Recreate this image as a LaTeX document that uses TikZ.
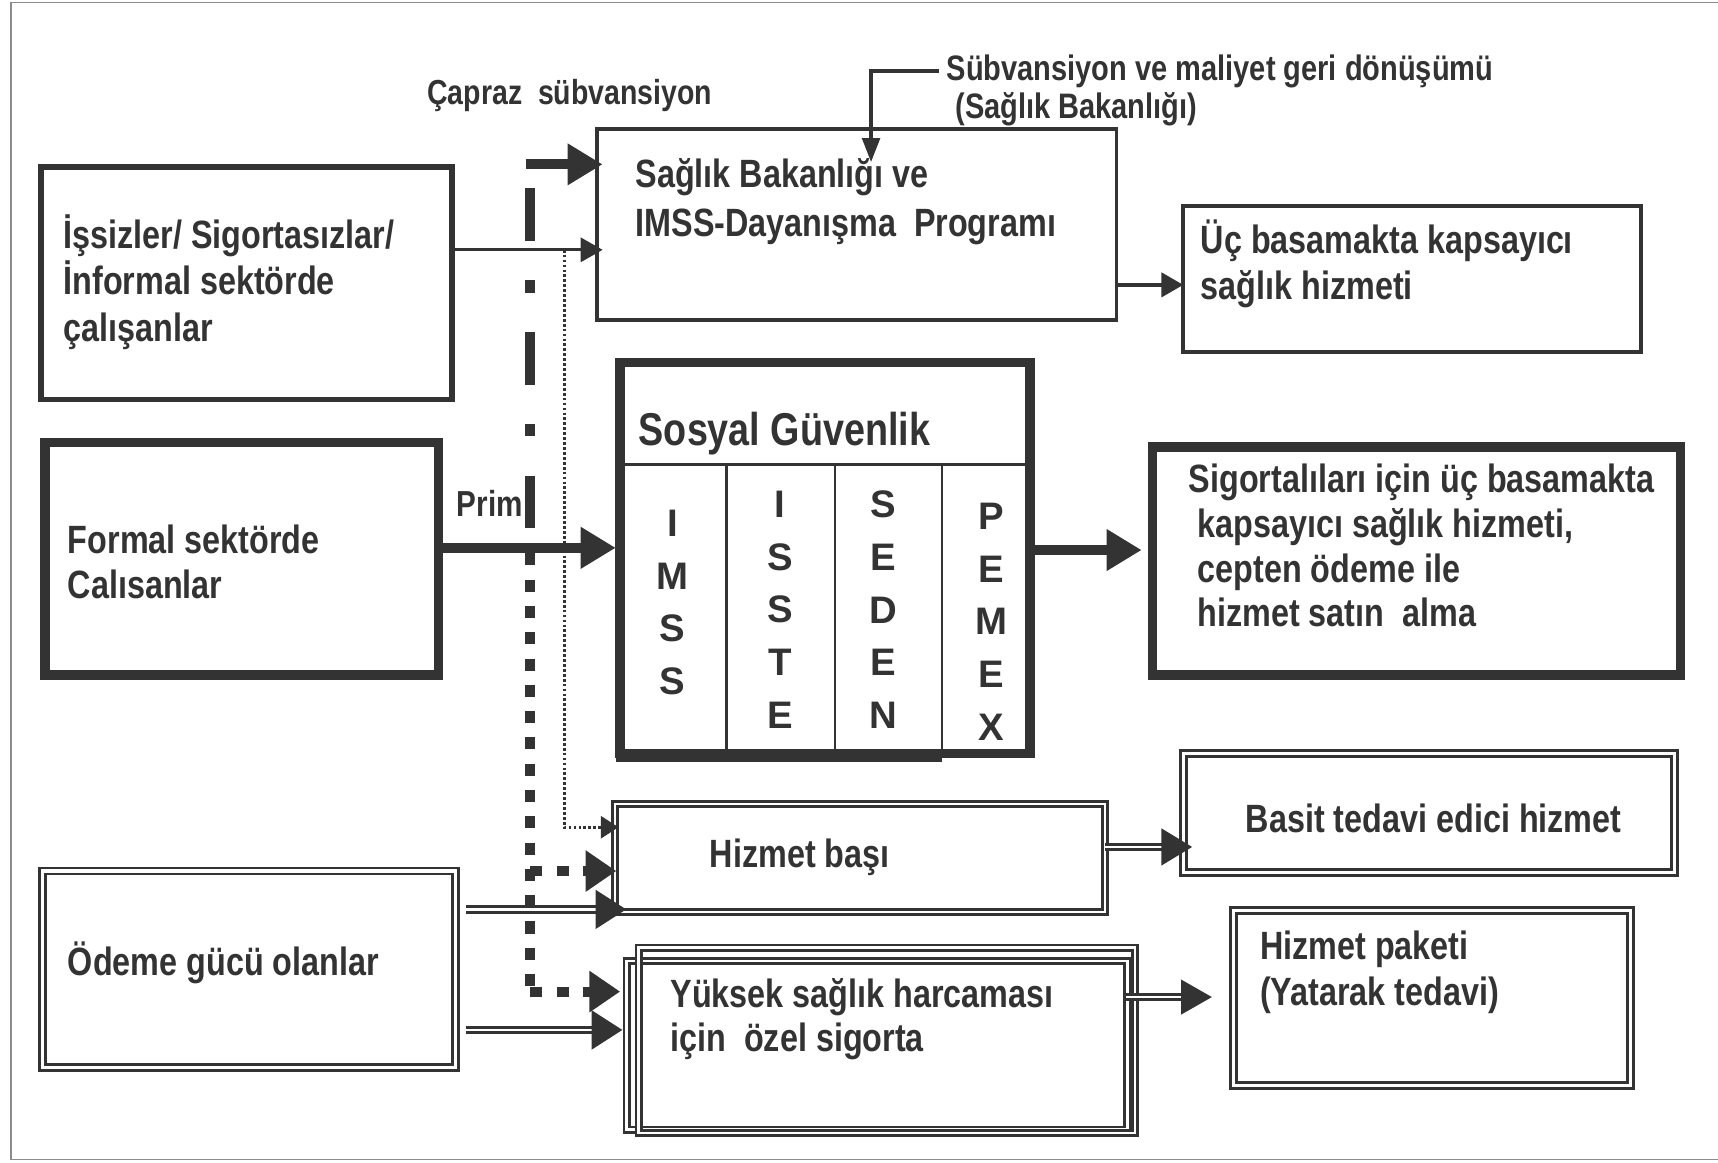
\documentclass[tikz,border=0pt]{standalone}
\usepackage{fontspec}
\setmainfont{Liberation Sans}[FakeStretch=0.82]
\newfontfamily\widefont{Liberation Sans}
\usetikzlibrary{arrows.meta,calc}
\definecolor{ink}{HTML}{333333}
\newcommand{\fsz}[2]{\fontsize{#1}{#2}\selectfont}
\begin{document}
\begin{tikzpicture}[x=1pt,y=-1pt,
  every node/.style={inner sep=0pt,outer sep=0pt},
  box/.style={draw=ink,line width=#1,anchor=north west},
  dblbox/.style={draw=ink,double=white,line width=#1,double distance=2.5pt,anchor=north west},
  txt/.style={text=ink,font=\bfseries\fsz{36}{#1},align=left,anchor=west},
  txt/.default=41,
  col/.style={text=ink,font=\widefont\bfseries\fsz{35}{48},align=center,anchor=center},
  thinarrow/.style={draw=ink,line width=#1,-{Triangle[length=20pt,width=22pt]}},
  thickarrow/.style={draw=ink,line width=9pt,-{Triangle[length=32pt,width=36pt]}},
  sqdot/.style={draw=ink,line width=9pt,dash pattern=on 11pt off 13pt},
  dblline/.style={draw=ink,double=white,line width=2.5pt,double distance=2.5pt},
  frame/.style={draw=black!45,line width=1.2pt}
]
\fill[white] (0,0) rectangle (1568,1061);
\useasboundingbox (0,0) rectangle (1568,1061);
\draw[frame] (1568,2) -- (10,2) -- (10,1058) -- (1568,1058);

% ---------- boxes ----------
\node[box=5pt, minimum width=375pt, minimum height=212pt] (A) at (37.5,152.5) {};
\node[box=3.5pt, minimum width=474pt, minimum height=174pt] (B) at (545,118) {};
\node[box=3.5pt, minimum width=418pt, minimum height=133pt] (C) at (1080,188) {};
\node[box=8.5pt, minimum width=359pt, minimum height=212pt] (E) at (41,404) {};
\node[box=8.5pt, minimum width=374pt, minimum height=357pt] (D) at (566,331) {};
\node[box=8.5pt, minimum width=482pt, minimum height=208pt] (F) at (1052,408) {};
\node[dblbox=2.5pt, minimum width=447pt, minimum height=99pt, double distance=2pt] (G) at (561.5,733.5) {};
\node[dblbox=2.5pt, minimum width=377pt, minimum height=179pt, double distance=3pt] (H) at (39,795) {};
\node[dblbox=2.5pt, minimum width=457pt, minimum height=154pt] (I1) at (572,877) {};
\node[dblbox=2.5pt, minimum width=453pt, minimum height=169pt] (I2) at (583,865) {};
\node[dblbox=3pt, minimum width=448pt, minimum height=108pt] (J) at (1080,688) {};
\node[dblbox=3pt, minimum width=362pt, minimum height=160pt] (K) at (1126,831) {};

% Sosyal Guvenlik inner structure
\coordinate (hdr) at (0,424);
\draw[ink,line width=2pt] (D.west |- hdr) -- (D.east |- hdr);
\foreach \x in {663,762,860} \draw[ink,line width=2pt] (\x,424) -- (\x,688);
\draw[ink,line width=6pt] (562,692) -- (860,692);

% ---------- texts ----------
\node[txt, font=\bfseries\fsz{31.7}{30}] (capraz) at (390,87) {Çapraz\ \ sübvansiyon};
\node[txt, font=\bfseries\fsz{32.3}{35}] (subv) at (864,82.5) {Sübvansiyon ve maliyet geri dönüşümü\\\hspace*{8pt}(Sağlık Bakanlığı)};
\node[txt=42.5] (At) at (58,257.5) {İşsizler/ Sigortasızlar/\\İnformal sektörde\\çalışanlar};
\node[txt=44] (Bt) at (580,184) {Sağlık Bakanlığı ve\\IMSS-Dayanışma\ \ Programı};
\node[txt=42] (Ct) at (1096,241) {Üç basamakta kapsayıcı\\sağlık hizmeti};
\node[txt] (Et) at (62,512.5) {Formal sektörde\\Calısanlar};
\node[txt, font=\bfseries\fsz{33}{30}] (prim) at (417,459) {Prim};
\node[txt, font=\bfseries\fsz{42}{40}] (Dt) at (583,396) {Sosyal Güvenlik};
\node[txt=40.7] (Ft) at (1085,498) {Sigortalıları için üç basamakta\\\hspace*{8pt}kapsayıcı sağlık hizmeti,\\\hspace*{8pt}cepten ödeme ile\\\hspace*{8pt}hizmet satın\ \ alma};
\node[col] (c1) at (614,550) {I\\M\\S\\S};
\node[col] (c2) at (712,556.5) {I\\S\\S\\T\\E};
\node[col] (c3) at (806,556.5) {S\\E\\D\\E\\N};
\node[col] (c4) at (905,567.5) {P\\E\\M\\E\\X};
\node[txt] (Gt) at (648,782) {Hizmet başı};
\node[txt] (Ht) at (62,879) {Ödeme gücü olanlar};
\node[txt=40] (It) at (612,930) {Yüksek sağlık harcaması\\için\ \ özel sigorta};
\node[txt] (Jt) at (1137,747) {Basit tedavi edici hizmet};
\node[txt=42] (Kt) at (1150,887) {Hizmet paketi\\(Yatarak tedavi)};

% ---------- connectors ----------
\coordinate (s0) at (857,65);
\coordinate (sB) at (795,148);
\draw[ink,line width=3.5pt,line join=miter,-{Triangle[length=22pt,width=16pt]}] (s0) -| (sB);

\coordinate (yAB) at (0,228);
\draw[thinarrow=2.5pt] (A.east |- yAB) -- ($(B.west |- yAB)+(5,0)$);
\coordinate (yBC) at (0,260);
\draw[thinarrow=3.5pt] (B.east |- yBC) -- (C.west |- yBC);

\coordinate (top0) at (480,150);
\draw[thickarrow] (top0) -- ($(B.west |- top0)+(5,0)$);
\draw[ink,line width=9pt,dash pattern=on 48pt off 36pt on 11pt off 36pt] (484,172) -- (484,485);

\coordinate (yPrim) at (0,500);
\draw[thickarrow] (E.east |- yPrim) -- ($(D.west |- yPrim)+(-4,0)$);
\coordinate (yDF) at (0,502);
\draw[thickarrow] (D.east |- yDF) -- ($(F.west |- yDF)+(-10,0)$);

\coordinate (sqTop) at (484,505);
\coordinate (sqMid) at (484,795);
\coordinate (sqBot) at (484,905);
\draw[sqdot] (sqTop) -- (sqBot);
\draw[sqdot,-{Triangle[length=28pt,width=36pt]}] (sqMid) -- ($(G.west |- sqMid)+(1,0)$);
\draw[sqdot,-{Triangle[length=28pt,width=36pt]}] (sqBot) -- ($(I1.west |- sqBot)+(-6,0)$);

\coordinate (dotTop) at (515,228);
\coordinate (yHd) at (0,755);
\draw[ink,line width=2.5pt,dash pattern=on 2.5pt off 2pt,-{Triangle[length=16pt,width=20pt]}] (dotTop) |- ($(G.west |- yHd)+(3,0)$);

\coordinate (yHG) at (0,830);
\coordinate (tHG) at ($(G.west |- yHG)+(10,0)$);
\draw[dblline] ($(H.east |- yHG)+(9,0)$) -- ($(tHG)+(-20,0)$);
\fill[ink] (tHG) -- ++(-28,-18) -- ++(0,36) -- cycle;

\coordinate (yHI) at (0,940);
\coordinate (tHI) at ($(I1.west |- yHI)+(-4,0)$);
\draw[dblline] ($(H.east |- yHI)+(9,0)$) -- ($(tHI)+(-20,0)$);
\fill[ink] (tHI) -- ++(-28,-18) -- ++(0,36) -- cycle;

\coordinate (yGJ) at (0,773);
\coordinate (tGJ) at ($(J.west |- yGJ)+(8,0)$);
\draw[dblline] (G.east |- yGJ) -- ($(tGJ)+(-20,0)$);
\fill[ink] (tGJ) -- ++(-28,-17) -- ++(0,34) -- cycle;

\coordinate (yIK) at (0,910);
\coordinate (tIK) at ($(K.west |- yIK)+(-20,0)$);
\draw[dblline] ($(I1.east |- yIK)+(-1,0)$) -- ($(tIK)+(-20,0)$);
\fill[ink] (tIK) -- ++(-28,-16) -- ++(0,32) -- cycle;
\end{tikzpicture}
\end{document}
